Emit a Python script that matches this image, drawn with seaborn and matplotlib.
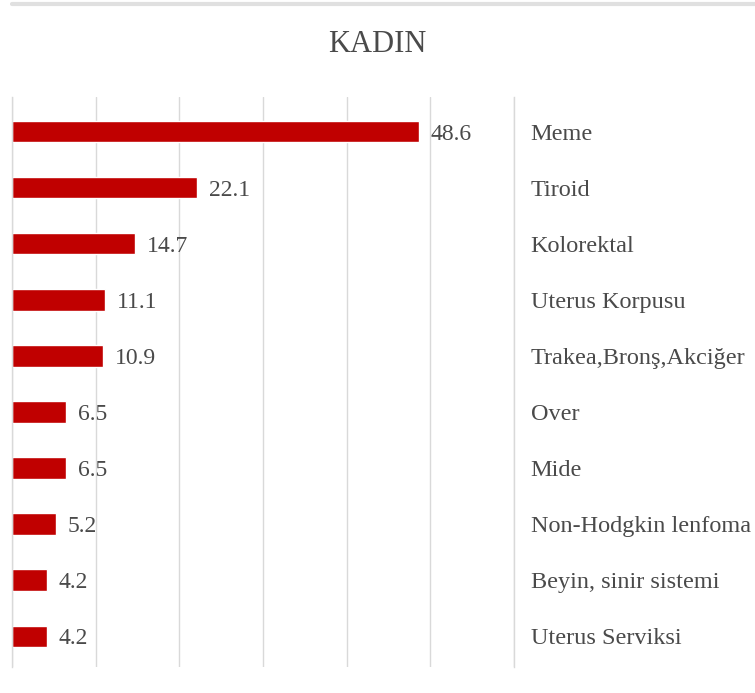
import matplotlib
matplotlib.use("Agg")
import matplotlib.pyplot as plt
import seaborn as sns
import pandas as pd
from matplotlib.lines import Line2D

categories = ["Meme", "Tiroid", "Kolorektal", "Uterus Korpusu",
              "Trakea,Bronş,Akciğer", "Over", "Mide", "Non-Hodgkin lenfoma",
              "Beyin, sinir sistemi", "Uterus Serviksi"]
values = [48.6, 22.1, 14.7, 11.1, 10.9, 6.5, 6.5, 5.2, 4.2, 4.2]
x_ticks = [0, 10, 20, 30, 40, 50, 60]

df = pd.DataFrame({"cat": categories, "val": values})

sns.set_theme(style="white")
plt.rcParams["font.family"] = ["Liberation Serif", "DejaVu Serif"]

fig = plt.figure(figsize=(7.55, 6.93), dpi=100)
ax = fig.add_axes([12/755, 1-667/693, (514-12)/755, (667-97)/693])

sns.barplot(data=df, x="val", y="cat", color="#C00000", width=0.38,
            saturation=1, ax=ax, orient="h")

ax.set_xlim(x_ticks[0], x_ticks[-1])
ax.set_ylim(9.55, -0.62)
ax.set_xticks(x_ticks)
ax.set_xticklabels([])
ax.tick_params(axis="x", length=0)
ax.xaxis.grid(True, color="#D9D9D9", linewidth=1)
ax.set_axisbelow(True)
ax.set_xlabel("")
ax.set_ylabel("")

ax.yaxis.tick_right()
ax.tick_params(axis="y", length=0, pad=12, labelsize=17.5, labelcolor="#4a4a4a")
for lbl in ax.get_yticklabels():
    lbl.set_horizontalalignment("left")

for s in ["top", "bottom"]:
    ax.spines[s].set_visible(False)
for s in ["left", "right"]:
    ax.spines[s].set_color("#D9D9D9")
    ax.spines[s].set_linewidth(1)

for p, v in zip(ax.patches, values):
    ax.text(p.get_width() + 1.4, p.get_y() + p.get_height()/2, f"{v:.1f}",
            va="center_baseline", ha="left", fontsize=17, color="#4a4a4a")

fig.text(377/755, 1-45/693, "KADIN", ha="center", va="center",
         fontsize=22, color="#4a4a4a")
fig.add_artist(Line2D([12/755, 1], [1-4/693, 1-4/693], color="#E0E0E0",
                      linewidth=3, transform=fig.transFigure))

fig.savefig("out.png", dpi=100)
